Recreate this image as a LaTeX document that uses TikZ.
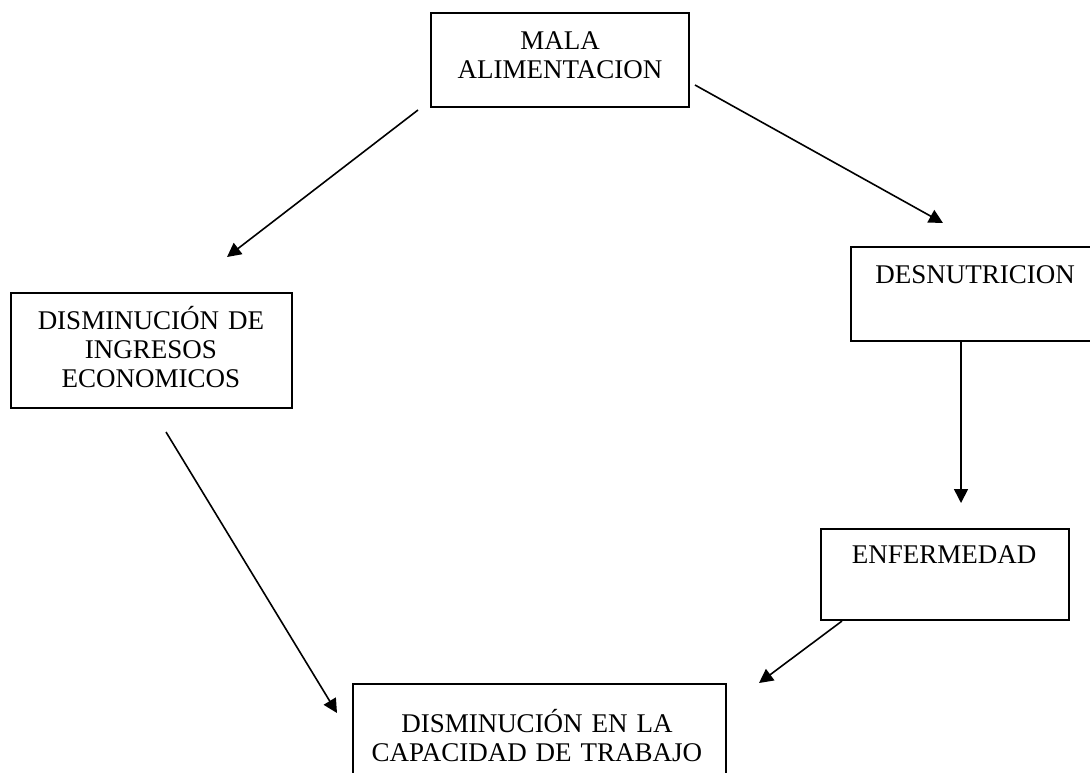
\documentclass[tikz,border=0pt]{standalone}
\usepackage{fontspec}
\setmainfont{Liberation Serif}
\usetikzlibrary{arrows.meta,fit}

\begin{document}
\begin{tikzpicture}[x=0.5pt, y=-0.5pt,
  box/.style={draw, rectangle, inner sep=0pt, line width=0.8pt},
  lbl/.style={anchor=base, inner sep=0pt, text width=190pt, align=center,
    font=\fontsize{13.5}{14.65}\selectfont},
  flecha/.style={-{Triangle[length=7pt,width=7pt]}, line width=0.8pt}]

\useasboundingbox (0,0) rectangle (1090,772);

% cajas
\node[box, fit={(431,13) (689,107)}] (mala) {};
\node[box, fit={(11,293) (292,408)}] (ingresos) {};
\node[box, fit={(851,247) (1099,341)}] (desnut) {};
\node[box, fit={(821,529) (1069,620)}] (enferm) {};
\node[box, fit={(353,684) (726,820)}] (capac) {};

% textos
\node[lbl] (malat) at (560,49) {MALA\\ALIMENTACION};
\node[lbl] (ingresost) at (151,329) {DISMINUCIÓN DE\\INGRESOS\\ECONOMICOS};
\node[lbl] (desnutt) at (975,283) {DESNUTRICION};
\node[lbl] (enfermt) at (944,563) {ENFERMEDAD};
\node[lbl] (capact) at (537,732) {DISMINUCIÓN EN LA\\CAPACIDAD DE TRABAJO};

% extremos de flechas
\coordinate (m1) at (418,110);
\coordinate (i1) at (227,257);
\coordinate (m2) at (695,85);
\coordinate (d1) at (943,223);
\coordinate (d2) at (961,341);
\coordinate (e1) at (961,503);
\coordinate (i2) at (166,432);
\coordinate (c1) at (337,713);
\coordinate (e2) at (842,621);
\coordinate (c2) at (759,683);

\draw[flecha] (m1) -- (i1);
\draw[flecha] (m2) -- (d1);
\draw[flecha] (d2) -- (e1);
\draw[flecha] (i2) -- (c1);
\draw[flecha] (e2) -- (c2);

\end{tikzpicture}
\end{document}
